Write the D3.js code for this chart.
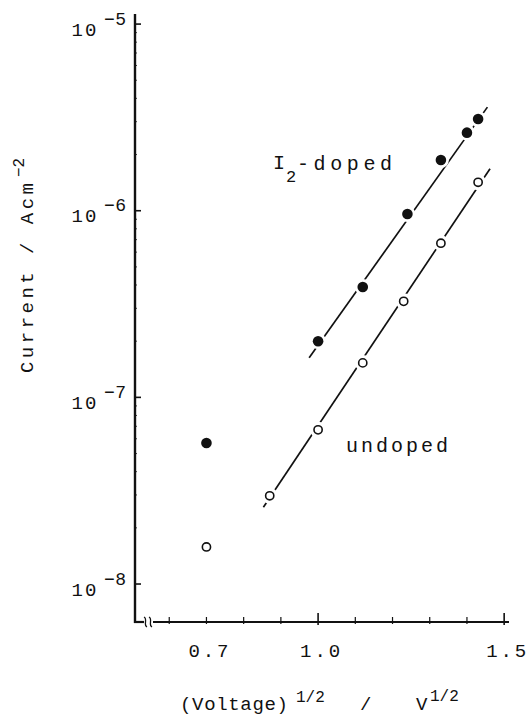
<!DOCTYPE html>
<html>
<head>
<meta charset="utf-8">
<script src="https://cdn.jsdelivr.net/npm/d3@7"></script>
<style>
  html, body { margin: 0; padding: 0; background: #fff; }
  svg { display: block; }
  text { font-family: "Liberation Mono", "DejaVu Sans Mono", monospace; fill: #111; }
</style>
</head>
<body>
<svg id="chart" width="527" height="725"></svg>
<script>
// Current density vs square root of applied voltage (semi-log)
const dopedX   = [0.70, 1.00, 1.12, 1.24, 1.33, 1.40, 1.43];
const dopedJ   = [5.7e-8, 2.0e-7, 3.9e-7, 9.6e-7, 1.87e-6, 2.62e-6, 3.1e-6];
const undopedX = [0.70, 0.87, 1.00, 1.12, 1.23, 1.33, 1.43];
const undopedJ = [1.58e-8, 2.97e-8, 6.7e-8, 1.53e-7, 3.27e-7, 6.7e-7, 1.42e-6];

// straight-line fits drawn through the high-field points
const dopedFitX   = [0.976, 1.455];
const dopedFitJ   = [1.63e-7, 3.59e-6];
const undopedFitX = [0.853, 1.462];
const undopedFitJ = [2.58e-8, 1.68e-6];

const xMinorTicks = [0.6, 0.7, 0.8, 0.9, 1.1, 1.2, 1.3, 1.4];
const xMajorTicks = [1.0, 1.5];
const xTickLabels = [["0.7", 0.7], ["1.0", 1.0], ["1.5", 1.5]];
const yDecades    = [-8, -7, -6, -5];

const svg = d3.select("#chart");
const x = d3.scaleLinear().domain([0.508, 1.513]).range([135, 509]);
const y = d3.scaleLog().domain([Math.pow(10, -8.2035), Math.pow(10, -4.946)]).range([622, 14]);

const x0 = x.range()[0], x1 = x.range()[1];
const yB = y.range()[0], yT = y.range()[1];

const ink = "#111";

// y axis
svg.append("line").attr("x1", x0).attr("x2", x0).attr("y1", yT).attr("y2", yB + 1)
  .attr("stroke", ink).attr("stroke-width", 2.4);

// decade ticks and small minor ticks on y
yDecades.forEach(e => {
  const v = Math.pow(10, e);
  svg.append("line").attr("x1", x0).attr("x2", x0 + 6).attr("y1", y(v)).attr("y2", y(v))
    .attr("stroke", ink).attr("stroke-width", 1.6);
  if (e < -5) {
    for (let m = 2; m <= 9; m++) {
      const yy = y(m * v);
      svg.append("line").attr("x1", x0).attr("x2", x0 + 2).attr("y1", yy).attr("y2", yy)
        .attr("stroke", ink).attr("stroke-width", 0.8);
    }
  }
});

// y tick labels: 10 with superscript exponent
yDecades.forEach(e => {
  const yy = y(Math.pow(10, e));
  svg.append("text").attr("x", 71.5).attr("y", yy + 11.5)
    .attr("font-size", 19).attr("textLength", 25).attr("lengthAdjust", "spacing").text("10");
  svg.append("text").attr("x", 104).attr("y", yy + 0.5)
    .attr("font-size", 18).attr("textLength", 22).attr("lengthAdjust", "spacing").text("\u2212" + (-e));
});

// x axis with break mark near the origin
svg.append("line").attr("x1", x0 - 1).attr("x2", 144).attr("y1", yB).attr("y2", yB)
  .attr("stroke", ink).attr("stroke-width", 2.2);
svg.append("line").attr("x1", 153).attr("x2", x1).attr("y1", yB).attr("y2", yB)
  .attr("stroke", ink).attr("stroke-width", 2.2);
[145.5, 150.5].forEach(bx => {
  svg.append("path")
    .attr("d", `M${bx - 1.5},${yB - 5} C${bx + 2.5},${yB - 3} ${bx - 2.5},${yB + 3} ${bx + 1.5},${yB + 5}`)
    .attr("fill", "none").attr("stroke", ink).attr("stroke-width", 1.3);
});

xMinorTicks.forEach(v => {
  svg.append("line").attr("x1", x(v)).attr("x2", x(v)).attr("y1", yB + 2).attr("y2", yB - 5)
    .attr("stroke", ink).attr("stroke-width", 1.2);
});
xMajorTicks.forEach(v => {
  svg.append("line").attr("x1", x(v)).attr("x2", x(v)).attr("y1", yB + 3).attr("y2", yB - 9)
    .attr("stroke", ink).attr("stroke-width", 1.6);
});

xTickLabels.forEach(([t, v]) => {
  svg.append("text").attr("x", x(v) + 2).attr("y", 657).attr("text-anchor", "middle")
    .attr("font-size", 19).attr("textLength", 40).attr("lengthAdjust", "spacing").text(t);
});

// fit lines
const line = d3.line().x(d => x(d[0])).y(d => y(d[1]));
[[dopedFitX, dopedFitJ], [undopedFitX, undopedFitJ]].forEach(([fx, fj]) => {
  svg.append("path").datum(fx.map((v, i) => [v, fj[i]])).attr("d", line)
    .attr("fill", "none").attr("stroke", ink).attr("stroke-width", 1.7);
});

// white halos break the fit lines around each marker
const dopedPts = dopedX.map((v, i) => [v, dopedJ[i]]);
const undopedPts = undopedX.map((v, i) => [v, undopedJ[i]]);
svg.append("g").selectAll("circle").data(dopedPts.concat(undopedPts)).join("circle")
  .attr("cx", d => x(d[0])).attr("cy", d => y(d[1])).attr("r", 8).attr("fill", "#fff");

svg.append("g").selectAll("circle").data(dopedPts).join("circle")
  .attr("cx", d => x(d[0])).attr("cy", d => y(d[1])).attr("r", 5.3).attr("fill", ink);
svg.append("g").selectAll("circle").data(undopedPts).join("circle")
  .attr("cx", d => x(d[0])).attr("cy", d => y(d[1])).attr("r", 4.1)
  .attr("fill", "#fff").attr("stroke", ink).attr("stroke-width", 1.6);

// series labels
svg.append("text").attr("x", 273).attr("y", 169).attr("font-size", 20).text("I");
svg.append("text").attr("x", 286).attr("y", 182).attr("font-size", 17).text("2");
svg.append("text").attr("x", 297).attr("y", 170).attr("font-size", 20)
  .attr("textLength", 95).attr("lengthAdjust", "spacing").text("-doped");
svg.append("text").attr("x", 346).attr("y", 452).attr("font-size", 20)
  .attr("textLength", 102).attr("lengthAdjust", "spacing").text("undoped");

// axis titles
const xt = svg.append("text").attr("y", 710).attr("font-size", 19);
xt.append("tspan").attr("x", 180).attr("textLength", 108).attr("lengthAdjust", "spacing").text("(Voltage)");
xt.append("tspan").attr("x", 296).attr("dy", -8).attr("font-size", 16).text("1/2");
xt.append("tspan").attr("x", 360).attr("dy", 8).text("/");
xt.append("tspan").attr("x", 416).text("V");
xt.append("tspan").attr("x", 430).attr("dy", -9).attr("font-size", 16).text("1/2");

const yt = svg.append("g").attr("transform", "translate(33,373) rotate(-90)");
yt.append("text").attr("x", 0).attr("y", 0).attr("font-size", 19)
  .attr("textLength", 190).attr("lengthAdjust", "spacing").text("Current / Acm");
yt.append("text").attr("x", 196).attr("y", -9).attr("font-size", 16).text("\u22122");
</script>
</body>
</html>
